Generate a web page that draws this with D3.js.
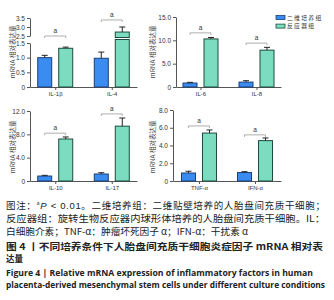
<!DOCTYPE html>
<html><head><meta charset="utf-8">
<script src="https://cdn.jsdelivr.net/npm/d3@7"></script>
<style>body{margin:0;background:#fff}svg{display:block}</style>
</head><body><svg id="c" width="334" height="300"></svg>
<script>
// ---- data ----
const seriesNames = ["二维培养组", "反应器组"];

const catsA = ["IL-1β", "IL-4"];
const a2D = [1.00, 0.98], a2DErr = [0.08, 0.21];
const aR = [1.32, 2.72], aRErr = [0.04, 0.28];
const aSig = [1.52, 3.39];
const aTicksLow = [0, 0.5, 1.0, 1.5], aTicksHigh = [2.5, 3.0, 3.5];

const catsB = ["IL-6", "IL-8"];
const b2D = [0.85, 1.05], b2DErr = [0.15, 0.30];
const bR = [10.3, 7.9], bRErr = [0.30, 0.60];
const bSig = [11.6, 9.4];
const bTicks = [0, 5, 10, 15];

const catsC = ["IL-10", "IL-17"];
const c2D = [0.85, 1.2], c2DErr = [0.12, 0.22];
const cR = [7.2, 9.4], cRErr = [0.35, 1.4];
const cSig = [8.2, 11.5];
const cTicks = [0, 4, 8, 12];

const catsD = ["TNF-α", "IFN-α"];
const d2D = [0.9, 0.95], d2DErr = [0.2, 0.1];
const dR = [5.4, 4.55], dRErr = [0.35, 0.3];
const dSig = [6.2, 5.2];
const dTicks = [0, 2, 4, 6, 8];

const yTitle = "mRNA 相对表达量";
const sigLabel = "a";

const captionLines = [
  "图注：", "反应器组：旋转生物反应器内球形体培养的人胎盘间充质干细胞。IL：",
  "白细胞介素；TNF-α：肿瘤坏死因子 α；IFN-α：干扰素 α",
  "图 4 丨不同培养条件下人胎盘间充质干细胞炎症因子 mRNA 相对表",
  "达量",
  "Figure 4  |  Relative mRNA expression of inflammatory factors in human",
  "placenta-derived mesenchymal stem cells under different culture conditions"
];

// ---- styles ----
const fills = ["#3b8cf0", "#7cdcbf"];
const strokes = ["#1b3f78", "#1c4c3e"];
const tickFont = "Liberation Sans, Arial, sans-serif";
const cjk = "'Noto Sans CJK SC', sans-serif";

const svg = d3.select("#c");
const fmt = d => d === 0 ? "0" : d3.format(".1f")(d);

function styleAxis(g) {
  g.selectAll("path,line").attr("stroke", "#555").attr("stroke-width", 1);
  g.selectAll("text").attr("font-family", tickFont).attr("font-size", 6.5).attr("fill", "#333");
}

function drawPanel(cfg) {
  const g = svg.append("g");
  const x = d3.scalePoint().domain(cfg.cats).range([cfg.x0, cfg.x1]).padding(cfg.pad);
  const xs = d3.scaleBand().domain(seriesNames).range([-17.5, 17.5]).paddingInner(1/3);
  const base = cfg.yLow(0);
  let yPos;
  if (cfg.yHigh) {
    const lowMax = cfg.yLow.domain()[1];
    yPos = v => v <= lowMax ? cfg.yLow(v) : cfg.yHigh(Math.max(v, cfg.yHigh.domain()[0]));
  } else yPos = cfg.yLow;

  const ya = g.append("g").attr("transform", `translate(${cfg.x0},0)`)
    .call(d3.axisLeft(cfg.yLow).tickValues(cfg.ticksLow).tickFormat(fmt).tickSize(3).tickSizeOuter(0).tickPadding(2));
  styleAxis(ya);
  if (cfg.yHigh) {
    const yb = g.append("g").attr("transform", `translate(${cfg.x0},0)`)
      .call(d3.axisLeft(cfg.yHigh).tickValues(cfg.ticksHigh).tickFormat(fmt).tickSize(3).tickSizeOuter(0).tickPadding(2));
    styleAxis(yb);
  }
  const xa = g.append("g").attr("transform", `translate(0,${base})`)
    .call(d3.axisBottom(x).tickSize(3).tickSizeOuter(0).tickPadding(2));
  styleAxis(xa);
  xa.selectAll("text").attr("font-size", 6);

  g.append("text").attr("transform", `translate(${cfg.titleX},${cfg.titleY}) rotate(-90)`)
    .attr("text-anchor", "middle").attr("font-family", cjk).attr("font-size", 6.5)
    .attr("fill", "#444").text(yTitle);

  const series = [cfg.v2D, cfg.vR], errs = [cfg.e2D, cfg.eR];
  seriesNames.forEach((s, si) => {
    cfg.cats.forEach((c, ci) => {
      const v = series[si][ci], e = errs[si][ci];
      const cx = x(c) + xs(s) + xs.bandwidth() / 2;
      const left = x(c) + xs(s);
      const w = xs.bandwidth();
      if (cfg.yHigh && v > cfg.yLow.domain()[1]) {
        const mid = (cfg.yLow(cfg.yLow.domain()[1]) + cfg.yHigh(cfg.yHigh.domain()[0])) / 2;
        g.append("rect").attr("x", left).attr("y", mid).attr("width", w).attr("height", base - mid)
          .attr("fill", fills[si]).attr("stroke", strokes[si]).attr("stroke-width", 1);
        const ub = mid - 2;
        g.append("rect").attr("x", left).attr("y", yPos(v)).attr("width", w).attr("height", ub - yPos(v))
          .attr("fill", fills[si]).attr("stroke", strokes[si]).attr("stroke-width", 1);
      } else {
        g.append("rect").attr("x", left).attr("y", yPos(v)).attr("width", w).attr("height", base - yPos(v))
          .attr("fill", fills[si]).attr("stroke", strokes[si]).attr("stroke-width", 1);
      }
      const yt = yPos(v + e);
      g.append("line").attr("x1", cx).attr("x2", cx).attr("y1", yPos(v)).attr("y2", yt)
        .attr("stroke", "#222").attr("stroke-width", 1);
      g.append("line").attr("x1", cx - 3).attr("x2", cx + 3).attr("y1", yt).attr("y2", yt)
        .attr("stroke", "#222").attr("stroke-width", 1);
    });
  });
  cfg.cats.forEach((c, ci) => {
    const xa1 = x(c) + xs(seriesNames[0]) + xs.bandwidth() / 2;
    const xa2 = x(c) + xs(seriesNames[1]) + xs.bandwidth() / 2;
    const yy = yPos(cfg.sig[ci]);
    g.append("path").attr("d", `M${xa1},${yy + 2}V${yy}H${xa2}V${yy + 2}`)
      .attr("fill", "none").attr("stroke", "#999").attr("stroke-width", 0.8);
    g.append("text").attr("x", (xa1 + xa2) / 2).attr("y", yy - 3).attr("text-anchor", "middle")
      .attr("font-family", tickFont).attr("font-size", 6.5).attr("fill", "#333").text(sigLabel);
  });
}

drawPanel({cats: catsA, v2D: a2D, e2D: a2DErr, vR: aR, eR: aRErr, sig: aSig,
  x0: 30, x1: 137, pad: 0.446,
  yLow: d3.scaleLinear().domain([0, 1.5]).range([87, 43]), ticksLow: aTicksLow,
  yHigh: d3.scaleLinear().domain([2.5, 3.5]).range([36, 18]), ticksHigh: aTicksHigh,
  titleX: 15, titleY: 52});
drawPanel({cats: catsB, v2D: b2D, e2D: b2DErr, vR: bR, eR: bRErr, sig: bSig,
  x0: 176, x1: 281, pad: 0.4375,
  yLow: d3.scaleLinear().domain([0, 15]).range([87, 17]), ticksLow: bTicks,
  titleX: 155, titleY: 52});
drawPanel({cats: catsC, v2D: c2D, e2D: c2DErr, vR: cR, eR: cRErr, sig: cSig,
  x0: 30, x1: 137, pad: 0.446,
  yLow: d3.scaleLinear().domain([0, 12]).range([181, 111]), ticksLow: cTicks,
  titleX: 15, titleY: 147});
drawPanel({cats: catsD, v2D: d2D, e2D: d2DErr, vR: dR, eR: dRErr, sig: dSig,
  x0: 173, x1: 281, pad: 0.464,
  yLow: d3.scaleLinear().domain([0, 8]).range([181, 110]), ticksLow: dTicks,
  titleX: 155, titleY: 147});

// legend
const lg = svg.append("g");
seriesNames.forEach((s, i) => {
  lg.append("rect").attr("x", 276).attr("y", 15.5 + i * 8.6).attr("width", 9).attr("height", 4)
    .attr("fill", fills[i]).attr("stroke", strokes[i]).attr("stroke-width", 0.8);
  lg.append("text").attr("x", 287).attr("y", 19.8 + i * 8.6).attr("font-family", cjk)
    .attr("font-size", 5.8).attr("letter-spacing", 1.3).attr("fill", "#333").text(s);
});

// caption
const cap = svg.append("g").attr("fill", "#222");
const l1 = cap.append("text").attr("x", 6).attr("y", 208.5).attr("font-family", cjk).attr("font-size", 9.5)
  .attr("textLength", 319).attr("lengthAdjust", "spacing");
l1.append("tspan").text("图注：");
l1.append("tspan").attr("font-size", 5.5).attr("dy", -3.5).text("a");
l1.append("tspan").attr("dy", 3.5).attr("font-family", tickFont).attr("font-style", "italic").text("P");
l1.append("tspan").attr("font-family", tickFont).text(" < 0.01");
l1.append("tspan").text("。二维培养组：二维贴壁培养的人胎盘间充质干细胞；");

const lineSpec = [
  {t: captionLines[1], y: 221.5, len: 319, size: 9.5, w: "normal", f: cjk},
  {t: captionLines[2], y: 234.5, len: 242, size: 9.5, w: "normal", f: cjk},
  {t: captionLines[3], y: 249.5, len: 317, size: 9.3, w: "bold", f: cjk},
  {t: captionLines[4], y: 262, len: 17, size: 9.3, w: "bold", f: cjk},
  {t: captionLines[5], y: 276, len: 307, size: 8.3, w: "bold", f: "'Open Sans', sans-serif"},
  {t: captionLines[6], y: 288, len: 319, size: 8.3, w: "bold", f: "'Open Sans', sans-serif"}
];
lineSpec.forEach(d => {
  cap.append("text").attr("x", 6).attr("y", d.y).attr("font-family", d.f).attr("font-size", d.size)
    .attr("font-weight", d.w).attr("textLength", d.len).attr("lengthAdjust", "spacingAndGlyphs").text(d.t);
});
</script></body></html>
